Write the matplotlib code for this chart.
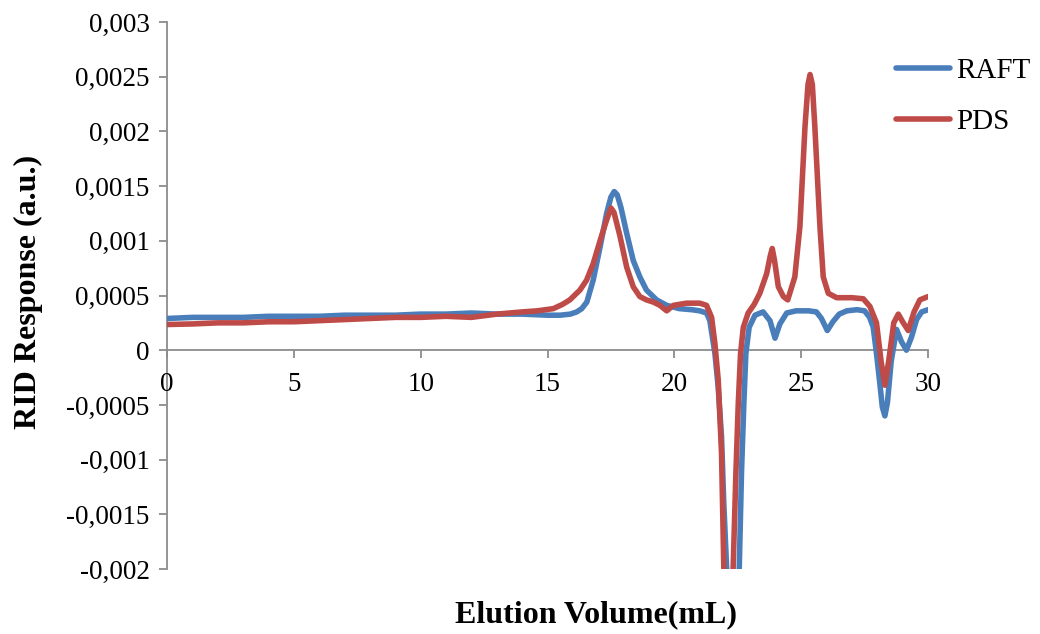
import matplotlib
matplotlib.use("Agg")
import matplotlib.pyplot as plt
from matplotlib.ticker import FixedLocator

# ---------------- data ----------------
raft_x = [0, 1, 2, 3, 4, 5, 6, 7, 8, 9, 10, 11, 12, 13, 14, 15, 15.5, 15.9,
          16.15, 16.35, 16.55, 16.8, 17.07, 17.33, 17.5, 17.63, 17.75, 17.9,
          18.12, 18.38, 18.64, 18.9, 19.3, 19.7, 20.2, 20.7, 21.0, 21.27, 21.4,
          21.6, 21.73, 21.86, 21.95, 22.06, 22.31, 22.56, 22.65, 22.74, 22.82,
          22.95, 23.18, 23.5, 23.77, 23.97, 24.16, 24.43, 24.8, 25.3, 25.6,
          25.8, 26.03, 26.25, 26.5, 26.8, 27.2, 27.5, 27.7, 27.84, 27.97, 28.1,
          28.2, 28.3, 28.4, 28.55, 28.76, 28.95, 29.15, 29.35, 29.55, 29.75, 30]
raft_y = [0.00029, 0.00030, 0.00030, 0.00030, 0.00031, 0.00031, 0.00031,
          0.00032, 0.00032, 0.00032, 0.00033, 0.00033, 0.00034, 0.00033,
          0.00033, 0.00032, 0.00032, 0.00033, 0.00035, 0.00038, 0.00044,
          0.00064, 0.00094, 0.00125, 0.00140, 0.00145, 0.00142, 0.00130,
          0.00107, 0.00082, 0.00067, 0.00055, 0.00046, 0.00041, 0.00038,
          0.00037, 0.00036, 0.00034, 0.00027, -0.00003, -0.00034, -0.00079,
          -0.0014, -0.00198, -0.0032, -0.00198, -0.0011, -0.00049, -0.00003,
          0.00021, 0.00032, 0.00035, 0.00027, 0.00011, 0.00024, 0.00034,
          0.00036, 0.00036, 0.00035, 0.00029, 0.00018, 0.00026, 0.00033,
          0.00036, 0.00037, 0.00036, 0.00030, 0.00021, -0.00003, -0.0003,
          -0.00052, -0.0006, -0.00048, -0.0001, 0.00019, 0.00008, 0.0,
          0.00012, 0.00028, 0.00035, 0.00037]

pds_x = [0, 1, 2, 3, 4, 5, 6, 7, 8, 9, 10, 11, 12, 13, 14, 14.6, 15.23, 15.6,
         15.88, 16.28, 16.54, 16.8, 17.07, 17.33, 17.5, 17.62, 17.86, 18.12,
         18.38, 18.64, 18.9, 19.17, 19.43, 19.7, 19.96, 20.48, 21.0, 21.27,
         21.47, 21.6, 21.73, 21.86, 21.95, 22.13, 22.32, 22.43, 22.52, 22.61,
         22.72, 22.91, 23.15, 23.37, 23.64, 23.78, 23.86, 23.95, 24.1, 24.3,
         24.47, 24.75, 24.95, 25.15, 25.27, 25.35, 25.44, 25.54, 25.74, 25.87,
         26.07, 26.4, 27.0, 27.45, 27.71, 27.97, 28.15, 28.3, 28.45, 28.65,
         28.83, 29.0, 29.22, 29.45, 29.68, 30]
pds_y = [0.000235, 0.00024, 0.00025, 0.00025, 0.00026, 0.00026, 0.00027,
         0.00028, 0.00029, 0.00030, 0.00030, 0.00031, 0.00030, 0.00033,
         0.00035, 0.00036, 0.00038, 0.00042, 0.00046, 0.00055, 0.00064,
         0.00079, 0.0010, 0.00119, 0.0013, 0.00126, 0.00104, 0.00076,
         0.00058, 0.00049, 0.00046, 0.00044, 0.00041, 0.00036, 0.00041,
         0.00043, 0.00043, 0.00041, 0.0003, 0.00006, -0.00027, -0.00094,
         -0.00198, -0.0032, -0.00198, -0.0011, -0.00049, -0.00003, 0.00021,
         0.00034, 0.00042, 0.00052, 0.0007, 0.00086, 0.00093, 0.00082,
         0.00058, 0.00049, 0.00046, 0.00067, 0.00113, 0.00204, 0.00243,
         0.00252, 0.00243, 0.00204, 0.00113, 0.00067, 0.00052, 0.00048,
         0.00048, 0.00047, 0.0004, 0.00025, -0.0001, -0.00032, -0.0001,
         0.00025, 0.00033, 0.00026, 0.00018, 0.00035, 0.00046, 0.00049]

series_names = ["RAFT", "PDS"]
series_colors = ["#4A7EBB", "#BE4B48"]

x_ticks = [0, 5, 10, 15, 20, 25, 30]
x_tick_labels = ["0", "5", "10", "15", "20", "25", "30"]
y_ticks = [-0.002, -0.0015, -0.001, -0.0005, 0, 0.0005, 0.001, 0.0015,
           0.002, 0.0025, 0.003]
y_tick_labels = ["-0,002", "-0,0015", "-0,001", "-0,0005", "0", "0,0005",
                 "0,001", "0,0015", "0,002", "0,0025", "0,003"]

x_label = "Elution Volume(mL)"
y_label = "RID Response (a.u.)"

# ---------------- plotting ----------------
plt.rcParams["font.family"] = ["Liberation Serif", "DejaVu Serif"]

fig = plt.figure(figsize=(10.4, 6.34), dpi=100)
ax = fig.add_axes([0.1606, 0.1025, 0.8923 - 0.1606, 0.9653 - 0.1025])

lw = 4.0
ax.plot(raft_x, raft_y, color=series_colors[0], lw=lw, label=series_names[0],
        solid_joinstyle="round", solid_capstyle="round")
ax.plot(pds_x, pds_y, color=series_colors[1], lw=lw, label=series_names[1],
        solid_joinstyle="round", solid_capstyle="round")

ax.set_xlim(0, 30)
ax.set_ylim(-0.002, 0.003)

ax.xaxis.set_major_locator(FixedLocator(x_ticks))
ax.set_xticklabels(x_tick_labels)
ax.yaxis.set_major_locator(FixedLocator(y_ticks))
ax.set_yticklabels(y_tick_labels)

for s in ["top", "right"]:
    ax.spines[s].set_visible(False)
ax.spines["bottom"].set_position(("data", 0))
ax.spines["left"].set_position(("data", 0))
for s in ["bottom", "left"]:
    ax.spines[s].set_color("#8C8C8C")
    ax.spines[s].set_linewidth(1.3)
    ax.spines[s].set_zorder(0.5)

ax.tick_params(axis="both", direction="out", length=5.5, width=1.3,
               color="#8C8C8C", labelsize=19.5, labelcolor="black")
ax.tick_params(axis="x", pad=10)
ax.tick_params(axis="y", pad=7)

fig.text(0.573, 0.03, x_label, ha="center", va="center", fontsize=23,
         fontweight="bold")
fig.text(0.027, 0.54, y_label, ha="center", va="center", rotation=90,
         fontsize=23, fontweight="bold")

leg = ax.legend(loc="upper left", bbox_to_anchor=(0.958, 0.935),
                frameon=False, fontsize=21, handlelength=1.85,
                handletextpad=0.2, labelspacing=0.85, borderaxespad=0,
                borderpad=0)

fig.savefig("out.png", dpi=100)
